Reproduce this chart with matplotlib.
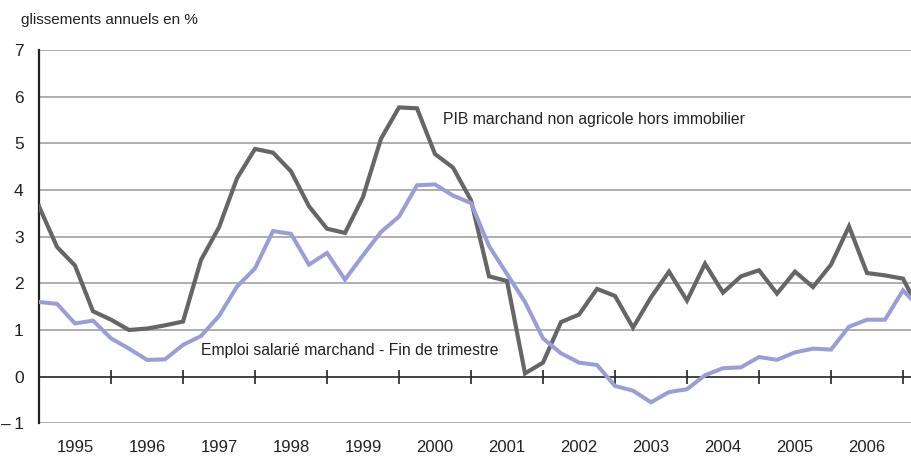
import matplotlib
matplotlib.use("Agg")
import matplotlib.pyplot as plt
import matplotlib.transforms as mtransforms
import numpy as np

plt.rcParams['font.family'] = ['Liberation Sans', 'DejaVu Sans']

# Quarterly data starting 1995 Q1
start_year = 1995
pib = [3.65, 2.78, 2.38, 1.40, 1.22, 1.00, 1.03, 1.10, 1.18, 2.50, 3.20, 4.25,
       4.88, 4.80, 4.40, 3.65, 3.17, 3.08, 3.85, 5.10, 5.77, 5.75, 4.77, 4.48,
       3.78, 2.15, 2.05, 0.07, 0.30, 1.17, 1.33, 1.88, 1.73, 1.05, 1.70, 2.25,
       1.63, 2.42, 1.80, 2.15, 2.28, 1.78, 2.25, 1.92, 2.40, 3.22, 2.22, 2.17,
       2.10, 1.35]
emploi = [1.60, 1.56, 1.14, 1.20, 0.82, 0.60, 0.36, 0.37, 0.68, 0.87, 1.30, 1.93,
          2.32, 3.12, 3.06, 2.40, 2.65, 2.08, 2.60, 3.10, 3.43, 4.10, 4.12, 3.88,
          3.72, 2.80, 2.20, 1.60, 0.82, 0.50, 0.30, 0.25, -0.20, -0.30, -0.55, -0.33,
          -0.27, 0.03, 0.18, 0.20, 0.42, 0.36, 0.52, 0.60, 0.58, 1.07, 1.22, 1.22,
          1.85, 1.45]
years = list(range(1995, 2007))
yticks = [-1, 0, 1, 2, 3, 4, 5, 6, 7]
ytick_labels = ['–\u20091', '0', '1', '2', '3', '4', '5', '6', '7']
label_pib = "PIB marchand non agricole hors immobilier"
label_emploi = "Emploi salarié marchand - Fin de trimestre"
title = "glissements annuels en %"

x = start_year + np.arange(len(pib)) / 4.0

fig = plt.figure(figsize=(9.11, 4.58), dpi=100)
ax = fig.add_axes([39/911, 1 - 423.3/458, 1 - 39/911, (423.3 - 50)/458])

ax.set_xlim(1995.0, 1995 + (911 - 39) / 72)
ax.set_ylim(-1, 7)

for yv in yticks:
    if yv != 0:
        ax.axhline(yv, color='#a8a8a8', lw=1.3, zorder=1)

ax.plot(x, pib, color='#666666', lw=3.0, zorder=3, solid_joinstyle='miter')
ax.plot(x, emploi, color='#9a9ed3', lw=2.9, zorder=4, solid_joinstyle='miter')

for s in ['top', 'right']:
    ax.spines[s].set_visible(False)
ax.spines['left'].set_linewidth(1.6)
ax.spines['left'].set_color('#222222')
ax.spines['bottom'].set_position(('data', 0))
ax.spines['bottom'].set_linewidth(1.2)
ax.spines['bottom'].set_color('#222222')
ax.spines['bottom'].set_zorder(2)

ax.set_yticks(yticks)
ax.set_yticklabels(ytick_labels, fontsize=12.5, color='#222222')
ax.tick_params(axis='y', length=0, pad=11)

ax.set_xticks([y + 1 for y in years])
ax.set_xticklabels([])
ax.tick_params(axis='x', direction='inout', length=10, width=1.2, color='#222222')

trans = mtransforms.blended_transform_factory(ax.transData, ax.transAxes)
for yr in years:
    ax.text(yr + 0.5, -0.066, str(yr), transform=trans, ha='center', va='center',
            fontsize=12, color='#222222', clip_on=False)

ax.text(2000.61, 5.41, label_pib, fontsize=11.3, color='#222222', ha='left', va='baseline')
ax.text(1997.25, 0.46, label_emploi, fontsize=11.3, color='#222222', ha='left', va='baseline')

fig.text(21/911, 1 - 24/458, title, fontsize=11, color='#222222', ha='left', va='baseline')

fig.savefig('out.png', dpi=100)
